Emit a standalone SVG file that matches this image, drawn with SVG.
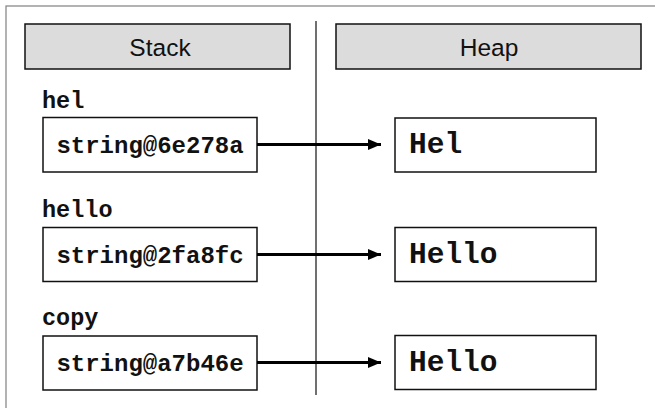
<svg xmlns="http://www.w3.org/2000/svg" width="655" height="408" viewBox="0 0 655 408">
<defs>
<style>
.frame{fill:#fff;stroke:#808080;stroke-width:1.2}
.hdr{fill:#dcdcdc;stroke:#111;stroke-width:1.5}
.box{fill:#fff;stroke:#111;stroke-width:1.5}
.htxt{font-family:"Liberation Sans",Arial,sans-serif;font-size:24.5px;fill:#111;text-anchor:middle}
.var{font-family:"Liberation Mono","Courier New",monospace;font-weight:bold;font-size:23.5px;fill:#111}
.ref{font-family:"Liberation Mono","Courier New",monospace;font-weight:bold;font-size:24px;fill:#111;text-anchor:middle}
.val{font-family:"Liberation Mono","Courier New",monospace;font-weight:bold;font-size:29.5px;fill:#111}
.conn{stroke:#000;stroke-width:3.2;fill:none;marker-end:url(#arr)}
</style>
<marker id="arr" markerWidth="13" markerHeight="12" refX="13" refY="6" orient="auto" markerUnits="userSpaceOnUse">
<path d="M0,0.5 L13,6 L0,11.5 Z" fill="#000"/>
</marker>
</defs>
<rect class="frame" x="6" y="6" width="670" height="430"/>
<line x1="316" y1="21" x2="316" y2="395" stroke="#111" stroke-width="1.2"/>
<g id="stack-header"><rect class="hdr" x="25" y="24" width="265" height="45"/><text class="htxt" x="160" y="55.5">Stack</text></g>
<g id="heap-header"><rect class="hdr" x="336" y="24" width="305" height="45"/><text class="htxt" x="489" y="55.5">Heap</text></g>
<g id="ref-hel"><text class="var" x="42" y="108">hel</text><rect class="box" x="43" y="117.5" width="214" height="54.5"/><text class="ref" x="150" y="152.5">string@6e278a</text></g>
<g id="ref-hello"><text class="var" x="42" y="217">hello</text><rect class="box" x="43" y="227.5" width="214" height="54"/><text class="ref" x="150" y="262.5">string@2fa8fc</text></g>
<g id="ref-copy"><text class="var" x="42" y="325">copy</text><rect class="box" x="43" y="336" width="214" height="54"/><text class="ref" x="150" y="371">string@a7b46e</text></g>
<g id="obj-hel"><rect class="box" x="395" y="118" width="201" height="54"/><text class="val" x="409" y="153">Hel</text></g>
<g id="obj-hello"><rect class="box" x="395" y="227.5" width="201" height="54"/><text class="val" x="409" y="263">Hello</text></g>
<g id="obj-copy"><rect class="box" x="395" y="335.5" width="201" height="54"/><text class="val" x="409" y="371">Hello</text></g>
<g id="connectors">
<line class="conn" x1="257" y1="144.5" x2="381" y2="144.5"/>
<line class="conn" x1="257" y1="254.5" x2="381" y2="254.5"/>
<line class="conn" x1="257" y1="362.5" x2="381" y2="362.5"/>
</g>
</svg>
